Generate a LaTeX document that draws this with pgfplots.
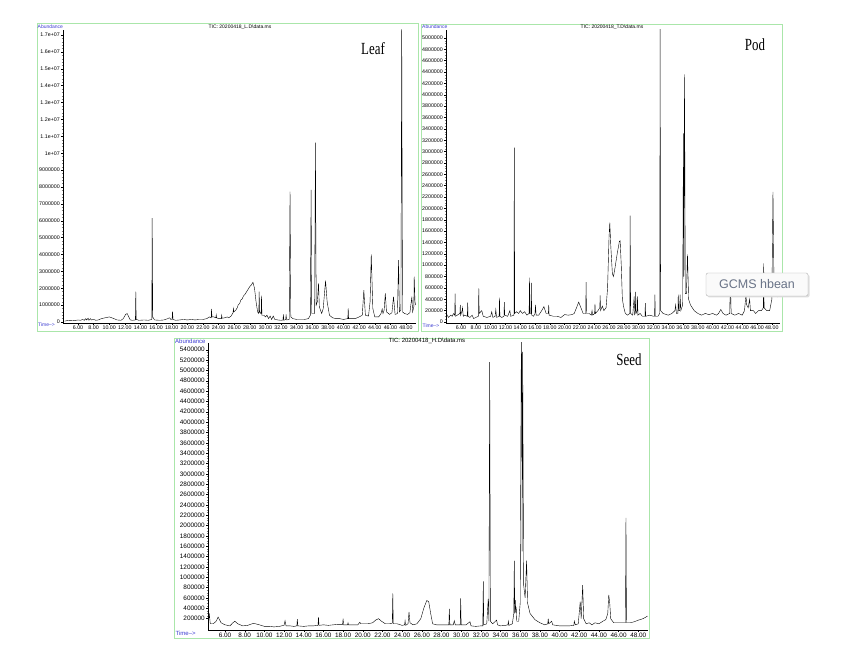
\documentclass[border=0pt]{standalone}
\usepackage{fontspec}
\setmainfont{Liberation Serif}
\setsansfont{Liberation Sans}
\usepackage{pgfplots}
\pgfplotsset{compat=1.18}
\definecolor{framegreen}{RGB}{170,230,170}
\definecolor{labblue}{RGB}{60,60,210}
\definecolor{tipgray}{RGB}{105,115,135}
\pgfplotsset{chrom/.style={
  scale only axis, anchor=south west,
  axis lines*=left,
  axis line style={black, line width=0.8pt},
  tick align=outside, major tick length=2pt, minor tick length=1.3pt,
  tick style={black, line width=0.4pt},
  minor tick style={gray, line width=0.35pt},
  scaled y ticks=false, scaled x ticks=false,
  xtick={6,8,...,48},
  xticklabels={6.00,8.00,10.00,12.00,14.00,16.00,18.00,20.00,22.00,24.00,26.00,28.00,30.00,32.00,34.00,36.00,38.00,40.00,42.00,44.00,46.00,48.00},
  minor x tick num=9,
  no marks,
  cycle list={{black, line width=0.85pt, line join=round}},
}}
\newcommand{\bs}{\char92\relax}
\begin{document}
\begin{tikzpicture}
\fill[white] (0,0) rectangle (864pt,662pt);
\useasboundingbox (0,0) rectangle (864pt,662pt);
% frames
\draw[framegreen, line width=0.8pt] (37pt,331pt) rectangle (418.5pt,639pt);
\draw[framegreen, line width=0.8pt] (421.5pt,331pt) rectangle (782pt,638pt);
\draw[framegreen, line width=0.8pt] (174.5pt,24pt) rectangle (649.5pt,323.5pt);

% ---------------- Leaf ----------------
\begin{axis}[chrom, at={(63pt,339pt)}, width=353pt, height=293pt,
  xmin=4.08, xmax=49.28, ymin=-0.06, ymax=17.3,
  ytick={0,1,...,17},
  yticklabels={0,1000000,2000000,3000000,4000000,5000000,6000000,7000000,8000000,9000000,1e+07,1.1e+07,1.2e+07,1.3e+07,1.4e+07,1.5e+07,1.6e+07,1.7e+07},
  minor y tick num=4,
  every tick label/.append style={font=\sffamily\fontsize{5.3}{6}\selectfont, inner sep=1pt}]
\addplot coordinates {
(4.3,0.05)(4.6,0.08)(5.0,0.1)(5.5,0.08)(6.0,0.12)(6.3,0.1)(6.6,0.15)(6.8,0.1)(7.0,0.2)(7.1,0.12)(7.3,0.22)(7.4,0.1)(7.6,0.2)(7.7,0.12)(8.0,0.15)(8.3,0.1)(8.6,0.12)(9.0,0.2)(9.5,0.25)(10.0,0.3)(10.5,0.22)(11.0,0.12)(11.5,0.1)(11.8,0.2)(12.1,0.45)(12.3,0.5)(12.5,0.3)(12.7,0.12)(13.0,0.1)(13.35,0.12)(13.4,1.8)(13.45,0.15)(13.8,0.1)(14.5,0.12)(15.0,0.1)(15.45,0.15)(15.5,6.15)(15.57,0.3)(15.8,0.12)(16.5,0.1)(17.0,0.12)(17.5,0.2)(17.7,0.25)(17.9,0.15)(18.05,0.15)(18.1,0.63)(18.17,0.15)(18.5,0.1)(19.0,0.12)(19.5,0.15)(20.0,0.12)(20.5,0.15)(21.0,0.12)(21.5,0.15)(22.0,0.15)(22.5,0.2)(22.8,0.3)(23.05,0.25)(23.1,0.77)(23.15,0.3)(23.4,0.3)(23.65,0.25)(23.7,0.42)(23.75,0.25)(24.0,0.2)(24.35,0.2)(24.4,0.4)(24.45,0.22)(24.8,0.25)(25.1,0.3)(25.3,0.25)(25.6,0.35)(25.85,0.55)(25.9,0.8)(25.95,0.6)(26.2,0.7)(26.4,0.85)(26.5,1.0)(26.7,1.1)(26.85,1.3)(27.0,1.35)(27.2,1.55)(27.4,1.65)(27.6,1.8)(27.8,1.95)(28.0,2.1)(28.2,2.2)(28.4,2.35)(28.6,2.0)(28.8,1.2)(29.0,0.6)(29.15,0.5)(29.2,1.8)(29.25,0.6)(29.4,0.5)(29.45,0.5)(29.5,1.56)(29.55,0.4)(29.8,0.4)(30.0,0.3)(30.2,0.4)(30.4,0.2)(30.6,0.35)(30.8,0.15)(31.0,0.35)(31.2,0.15)(31.6,0.12)(32.0,0.1)(32.25,0.12)(32.3,0.45)(32.35,0.1)(32.6,0.15)(32.65,0.45)(32.7,0.12)(33.05,0.15)(33.15,7.72)(33.25,0.3)(33.5,0.2)(34.0,0.15)(34.5,0.15)(35.0,0.15)(35.5,0.2)(35.75,0.4)(35.85,7.82)(35.93,0.5)(36.3,0.5)(36.4,10.63)(36.5,1.0)(36.65,1.2)(36.8,2.29)(36.9,0.9)(37.2,0.5)(37.4,0.8)(37.7,2.45)(37.9,1.2)(38.2,0.4)(38.6,0.25)(39.0,0.2)(39.5,0.2)(40.0,0.15)(40.5,0.2)(40.55,0.2)(40.6,0.81)(40.65,0.2)(41.0,0.2)(41.5,0.2)(42.0,0.3)(42.4,0.4)(42.6,1.88)(42.8,0.4)(43.2,0.35)(43.4,1.2)(43.55,4.0)(43.75,0.8)(44.0,0.3)(44.5,0.3)(44.8,0.5)(44.95,0.77)(45.05,0.5)(45.2,0.7)(45.35,1.7)(45.5,0.6)(45.9,0.45)(46.2,0.55)(46.4,1.5)(46.6,0.45)(46.9,0.5)(47.05,3.67)(47.15,0.6)(47.35,0.7)(47.45,17.6)(47.55,0.6)(47.8,0.5)(48.2,0.45)(48.5,0.55)(48.75,1.5)(48.85,0.6)(49.0,0.9)(49.05,2.68)(49.15,1.2)(49.25,1.0)
};
\end{axis}

% ---------------- Pod ----------------
\begin{axis}[chrom, at={(446pt,339pt)}, width=334pt, height=293pt,
  xmin=3.97, xmax=49.1, ymin=-0.018, ymax=5.14,
  ytick={0,0.2,...,5.01},
  yticklabels={0,200000,400000,600000,800000,1000000,1200000,1400000,1600000,1800000,2000000,2200000,2400000,2600000,2800000,3000000,3200000,3400000,3600000,3800000,4000000,4200000,4400000,4600000,4800000,5000000},
  minor y tick num=3,
  every tick label/.append style={font=\sffamily\fontsize{5.3}{6}\selectfont, inner sep=1pt}]
\addplot coordinates {
(4.0,0.15)(4.3,0.08)(4.6,0.12)(4.8,0.1)(5.0,0.15)(5.15,0.12)(5.2,0.5)(5.25,0.1)(5.5,0.12)(5.85,0.15)(5.9,0.3)(5.95,0.12)(6.15,0.2)(6.2,0.25)(6.3,0.1)(6.5,0.12)(6.85,0.1)(6.9,0.34)(6.95,0.1)(7.2,0.08)(7.5,0.12)(7.7,0.06)(8.0,0.08)(8.35,0.1)(8.4,0.59)(8.45,0.15)(8.8,0.2)(9.0,0.1)(9.5,0.08)(10.0,0.1)(10.15,0.18)(10.3,0.08)(10.6,0.1)(10.7,0.22)(10.8,0.08)(11.15,0.1)(11.2,0.43)(11.25,0.1)(11.5,0.08)(11.8,0.1)(11.85,0.35)(11.9,0.12)(12.3,0.1)(12.6,0.2)(12.7,0.1)(13.15,0.12)(13.2,3.07)(13.25,0.15)(13.5,0.18)(13.8,0.15)(14.0,0.2)(14.3,0.15)(14.6,0.18)(14.9,0.12)(15.2,0.15)(15.25,0.78)(15.3,0.15)(15.45,0.15)(15.5,0.69)(15.55,0.12)(15.8,0.1)(16.0,0.15)(16.05,0.3)(16.15,0.12)(16.5,0.12)(16.9,0.2)(17.2,0.27)(17.5,0.15)(17.8,0.15)(17.85,0.3)(17.9,0.12)(18.5,0.1)(19.0,0.1)(19.5,0.08)(20.0,0.13)(20.5,0.12)(21.0,0.13)(21.3,0.15)(21.6,0.25)(21.9,0.35)(22.2,0.25)(22.5,0.15)(22.85,0.15)(22.9,0.7)(22.95,0.15)(23.3,0.15)(23.6,0.12)(23.7,0.2)(23.8,0.12)(24.05,0.15)(24.1,0.32)(24.15,0.15)(24.5,0.2)(24.75,0.25)(24.8,0.47)(24.85,0.2)(25.1,0.28)(25.3,0.2)(25.6,0.25)(25.8,0.6)(26.0,1.5)(26.1,1.75)(26.25,1.3)(26.45,0.85)(26.6,0.8)(26.8,0.95)(27.1,1.2)(27.4,1.42)(27.5,1.43)(27.65,1.0)(27.8,0.4)(28.0,0.25)(28.2,0.15)(28.5,0.12)(28.8,0.15)(28.85,1.87)(28.92,0.15)(29.2,0.12)(29.4,0.45)(29.45,0.12)(29.55,0.2)(29.6,0.53)(29.65,0.15)(29.8,0.2)(29.85,0.45)(29.9,0.12)(30.2,0.15)(30.5,0.1)(30.85,0.1)(30.9,0.33)(30.95,0.1)(31.5,0.12)(32.0,0.1)(32.15,0.1)(32.2,0.48)(32.25,0.1)(32.6,0.1)(32.85,0.15)(32.9,5.2)(32.97,0.2)(33.3,0.15)(34.0,0.12)(34.5,0.15)(34.9,0.2)(35.0,0.3)(35.1,0.15)(35.3,0.15)(35.35,0.48)(35.42,0.2)(35.55,0.2)(35.6,0.48)(35.7,0.2)(35.95,0.3)(36.05,3.32)(36.1,0.8)(36.2,4.36)(36.3,0.5)(36.45,0.5)(36.6,1.19)(36.75,0.4)(37.0,0.3)(37.5,0.2)(38.0,0.15)(38.5,0.12)(39.0,0.15)(39.5,0.13)(40.0,0.15)(40.5,0.12)(40.8,0.15)(41.1,0.22)(41.4,0.15)(41.8,0.12)(42.3,0.15)(42.4,0.71)(42.5,0.15)(43.0,0.12)(43.5,0.15)(44.0,0.12)(44.3,0.2)(44.5,0.48)(44.6,0.3)(44.8,0.25)(45.0,0.4)(45.1,0.2)(45.5,0.2)(45.8,0.15)(46.2,0.2)(46.6,0.2)(46.85,0.25)(46.9,1.03)(46.95,0.25)(47.3,0.2)(47.7,0.2)(48.0,0.4)(48.15,2.29)(48.3,0.5)(48.6,0.55)(48.8,0.45)(49.0,0.55)
};
\end{axis}

% ---------------- Seed ----------------
\begin{axis}[chrom, at={(208pt,32pt)}, width=440pt, height=287pt,
  xmin=4.27, xmax=48.99, ymin=-0.02, ymax=5.53,
  ytick={0.2,0.4,...,5.41},
  yticklabels={200000,400000,600000,800000,1000000,1200000,1400000,1600000,1800000,2000000,2200000,2400000,2600000,2800000,3000000,3200000,3400000,3600000,3800000,4000000,4200000,4400000,4600000,4800000,5000000,5200000,5400000},
  minor y tick num=3,
  every tick label/.append style={font=\sffamily\fontsize{6.4}{7}\selectfont, inner sep=1pt}]
\addplot coordinates {
(4.3,0.12)(4.4,0.3)(4.5,0.1)(4.8,0.1)(5.1,0.15)(5.3,0.23)(5.6,0.12)(6.0,0.08)(6.5,0.06)(6.8,0.12)(7.0,0.15)(7.3,0.1)(7.8,0.06)(8.3,0.07)(8.9,0.11)(9.5,0.08)(10.0,0.05)(10.5,0.05)(11.0,0.04)(11.5,0.05)(12.0,0.07)(12.1,0.16)(12.2,0.06)(12.6,0.06)(13.0,0.05)(13.3,0.06)(13.35,0.19)(13.4,0.06)(14.0,0.05)(14.5,0.06)(15.0,0.06)(15.45,0.07)(15.5,0.23)(15.55,0.07)(16.0,0.08)(16.5,0.07)(17.0,0.08)(17.5,0.09)(17.95,0.09)(18.0,0.2)(18.05,0.08)(18.45,0.08)(18.5,0.12)(18.55,0.08)(19.0,0.08)(19.5,0.08)(19.7,0.13)(19.8,0.1)(20.0,0.1)(20.5,0.1)(21.0,0.12)(21.3,0.17)(21.6,0.2)(21.9,0.15)(22.3,0.1)(22.7,0.1)(23.0,0.11)(23.05,0.69)(23.1,0.1)(23.5,0.1)(24.0,0.07)(24.25,0.08)(24.3,0.16)(24.35,0.07)(24.6,0.1)(24.7,0.33)(24.8,0.12)(25.1,0.08)(25.5,0.1)(25.9,0.2)(26.2,0.4)(26.5,0.55)(26.7,0.53)(26.9,0.3)(27.1,0.1)(27.5,0.08)(28.0,0.08)(28.5,0.08)(28.75,0.08)(28.8,0.39)(28.85,0.08)(29.2,0.08)(29.3,0.16)(29.4,0.08)(29.9,0.08)(29.95,0.59)(30.0,0.08)(30.5,0.08)(30.9,0.14)(31.0,0.06)(31.5,0.05)(32.0,0.06)(32.2,0.06)(32.25,0.92)(32.3,0.08)(32.6,0.1)(32.75,0.58)(32.82,0.15)(32.9,5.16)(32.97,0.15)(33.2,0.1)(33.6,0.17)(33.7,0.08)(34.0,0.06)(34.5,0.07)(34.75,0.08)(34.8,0.15)(34.85,0.07)(35.2,0.1)(35.35,0.3)(35.4,1.32)(35.45,0.3)(35.5,0.56)(35.55,0.35)(35.6,0.4)(35.65,0.15)(35.85,0.15)(36.0,0.5)(36.1,5.0)(36.15,5.6)(36.2,1.5)(36.25,5.36)(36.35,0.85)(36.5,0.6)(36.65,1.32)(36.75,0.5)(37.0,0.3)(37.5,0.18)(38.0,0.12)(38.5,0.08)(38.8,0.1)(38.85,0.2)(38.9,0.1)(39.2,0.15)(39.3,0.08)(40.0,0.06)(40.5,0.06)(41.0,0.06)(41.45,0.07)(41.5,0.15)(41.6,0.08)(41.9,0.1)(42.1,0.53)(42.2,0.2)(42.35,0.85)(42.45,0.2)(42.7,0.1)(43.0,0.12)(43.3,0.08)(43.6,0.12)(44.0,0.1)(44.4,0.15)(44.7,0.18)(44.9,0.3)(45.0,0.66)(45.1,0.5)(45.2,0.2)(45.5,0.12)(46.0,0.12)(46.5,0.12)(46.7,0.12)(46.75,2.15)(46.8,0.12)(47.2,0.12)(47.6,0.14)(48.0,0.17)(48.5,0.2)(48.95,0.25)
};
\end{axis}

% ---------------- texts ----------------
\node[font=\sffamily\fontsize{5}{6}\selectfont] at (240pt,635pt) {TIC: 20200418\_L.D\bs data.ms};
\node[font=\sffamily\fontsize{5}{6}\selectfont] at (612pt,635pt) {TIC: 20200418\_T.D\bs data.ms};
\node[font=\sffamily\fontsize{6}{7}\selectfont] at (427pt,321.5pt) {TIC: 20200418\_H.D\bs data.ms};
\node[font=\sffamily\fontsize{5}{6}\selectfont, text=labblue, anchor=west, inner sep=0.5pt] at (37pt,635.5pt) {Abundance};
\node[font=\sffamily\fontsize{5}{6}\selectfont, text=labblue, anchor=west, inner sep=0.5pt] at (421.5pt,635pt) {Abundance};
\node[font=\sffamily\fontsize{6}{7}\selectfont, text=labblue, anchor=west, inner sep=0.5pt] at (174.5pt,321pt) {Abundance};
\node[font=\sffamily\fontsize{5}{6}\selectfont, text=labblue, anchor=west, inner sep=0.5pt] at (37.5pt,337pt) {Time-->};
\node[font=\sffamily\fontsize{5}{6}\selectfont, text=labblue, anchor=west, inner sep=0.5pt] at (422pt,336pt) {Time-->};
\node[font=\sffamily\fontsize{6}{7}\selectfont, text=labblue, anchor=west, inner sep=0.5pt] at (175pt,29pt) {Time-->};
\node[font=\fontsize{17}{20}\selectfont, xscale=0.76] at (373pt,613pt) {Leaf};
\node[font=\fontsize{17}{20}\selectfont, xscale=0.76] at (755pt,617pt) {Pod};
\node[font=\fontsize{17}{20}\selectfont, xscale=0.76] at (629pt,302pt) {Seed};
% tooltip box
\fill[gray!25, rounded corners=2pt] (707.5pt,364.5pt) rectangle (809.5pt,387.5pt);
\draw[gray!60, fill=white!96!gray, rounded corners=2pt] (706pt,366pt) rectangle (808pt,389pt);
\node[font=\sffamily\fontsize{12.5}{14}\selectfont, text=tipgray] at (757pt,377.5pt) {GCMS hbean};
\end{tikzpicture}
\end{document}
